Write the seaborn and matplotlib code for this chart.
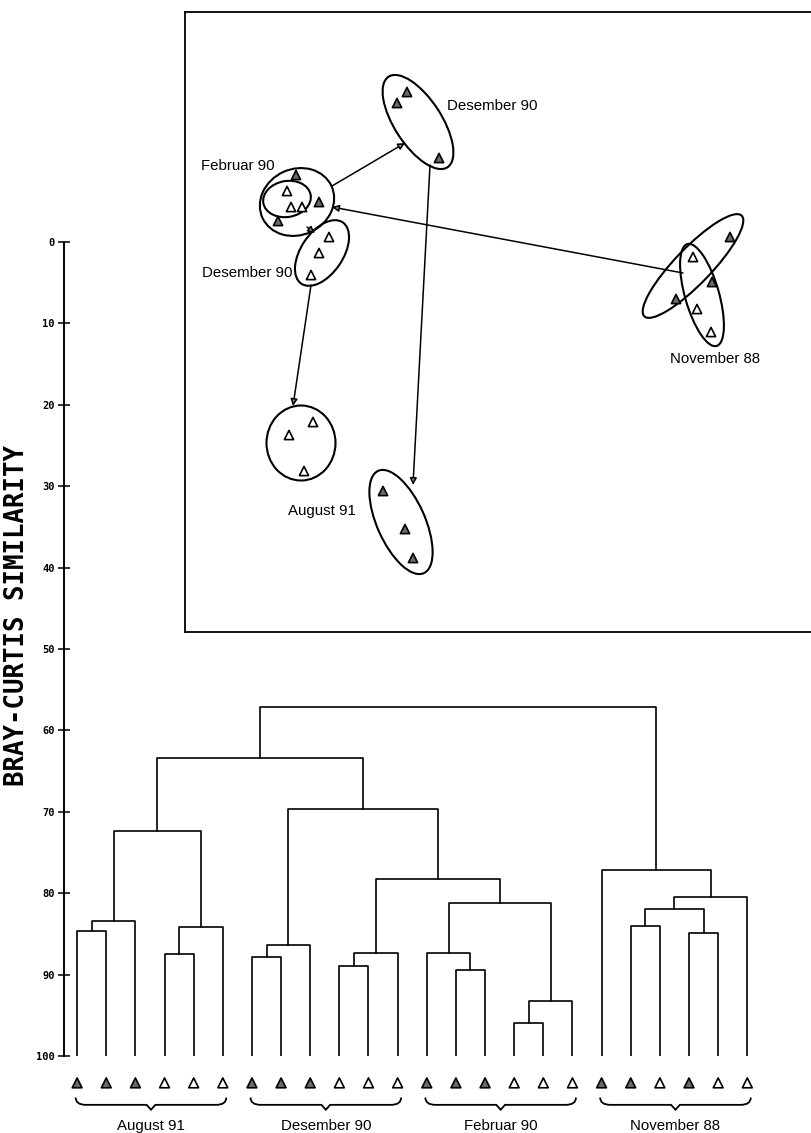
import numpy as np
import pandas as pd
import matplotlib
matplotlib.use('Agg')
import matplotlib.pyplot as plt
import seaborn as sns
from matplotlib.patches import Ellipse, PathPatch
from matplotlib.path import Path

# ---------------- data ----------------
group_names = ['August 91', 'Desember 90', 'Februar 90', 'November 88']
leaf_group = [0] * 6 + [1] * 6 + [2] * 6 + [3] * 6
leaf_filled = [1, 1, 1, 0, 0, 0,
               1, 1, 1, 0, 0, 0,
               1, 1, 1, 0, 0, 0,
               1, 1, 0, 1, 0, 0]
# agglomeration steps: cluster ids 0..23 are leaves, step k creates id 24+k
merge_a = [0, 24, 3, 26, 25, 6, 29, 9, 31, 13, 12, 15, 35, 34, 32, 30, 28,
           19, 21, 41, 43, 18, 40]
merge_b = [1, 2, 4, 5, 27, 7, 8, 10, 11, 14, 33, 16, 17, 36, 37, 38, 39,
           20, 22, 42, 23, 44, 45]
merge_h = [84.7, 83.4, 87.5, 84.1, 72.4, 87.8, 86.4, 88.9, 87.3, 89.4, 87.4,
           95.9, 93.2, 81.2, 78.3, 69.7, 63.4, 84.0, 84.9, 82.0, 80.5, 77.2,
           57.1]
y_ticks = [0, 10, 20, 30, 40, 50, 60, 70, 80, 90, 100]
y_label = 'BRAY-CURTIS SIMILARITY'

# MDS ordination (inset)
mds_x = [22.2, 21.2, 25.4,
         11.1, 13.4, 9.3,
         10.2, 10.6, 11.7,
         14.4, 13.4, 12.6,
         12.8, 10.4, 11.9,
         19.8, 22.0, 22.8,
         54.5, 52.7, 49.1,
         50.8, 51.2, 52.6]
mds_y = [8.0, 9.1, 14.6,
         16.3, 19.0, 20.9,
         17.9, 19.5, 19.5,
         22.5, 24.1, 26.3,
         41.0, 42.3, 45.9,
         47.9, 51.7, 54.6,
         22.5, 27.0, 28.7,
         24.5, 29.7, 32.0]
mds_filled = [1, 1, 1, 1, 1, 1, 0, 0, 0, 0, 0, 0,
              0, 0, 0, 1, 1, 1, 1, 1, 1, 0, 0, 0]
# arrows (from x, from y, to x, to y)
arrow_x0 = [14.7, 49.8, 12.2, 12.6, 24.5]
arrow_y0 = [17.4, 26.1, 21.5, 27.3, 15.3]
arrow_x1 = [22.0, 14.7, 13.0, 10.8, 22.8]
arrow_y1 = [13.1, 19.5, 22.1, 39.4, 47.3]
mds_labels = ['Desember 90', 'Februar 90', 'Desember 90', 'August 91', 'November 88']
mds_label_x = [26.2, 1.6, 10.7, 13.7, 53.0]
mds_label_y = [9.4, 15.4, 26.1, 49.9, 34.7]
mds_label_ha = ['left', 'left', 'right', 'center', 'center']
# cluster envelopes: centre x, centre y, length, width, angle
env_x = [23.3, 11.2, 10.2, 13.7, 11.6, 21.6, 50.8, 51.7]
env_y = [11.0, 19.0, 18.7, 24.1, 43.1, 51.0, 25.4, 28.3]
env_w = [10.8, 7.6, 4.8, 7.4, 6.9, 11.2, 14.0, 10.6]
env_h = [4.7, 6.6, 3.6, 4.2, 7.5, 4.8, 3.6, 3.4]
env_a = [57, -25, -10, 124, 0, 66, -46, 74]

# ---------------- figure ----------------
W, H = 811, 1133
sns.set_style('white')
plt.rcParams['text.color'] = 'black'
fig = plt.figure(figsize=(W / 100, H / 100), dpi=100)
fig.patch.set_facecolor('white')
lab_font = 'Liberation Sans'
mono = 'DejaVu Sans Mono'

# main dendrogram axes (pixel layout)
ax_l, ax_r, ax_t, ax_b = 64, 791, 242, 1056
ax = fig.add_axes([ax_l / W, 1 - ax_b / H, (ax_r - ax_l) / W, (ax_b - ax_t) / H])
ax.set_facecolor('none')

pos = {i: float(i) for i in range(24)}
hgt = {i: 100.0 for i in range(24)}
rows = []
for k, (a, b, h) in enumerate(zip(merge_a, merge_b, merge_h)):
    cid = 24 + k
    pos[cid] = (pos[a] + pos[b]) / 2
    hgt[cid] = h
    for j, (xx, yy) in enumerate([(pos[a], hgt[a]), (pos[a], h), (pos[b], h), (pos[b], hgt[b])]):
        rows.append(dict(seg=k, order=j, x=xx, y=yy))
seg_df = pd.DataFrame(rows)
sns.lineplot(data=seg_df, x='x', y='y', units='seg', estimator=None, sort=False,
             color='black', lw=1.2, ax=ax)

leaf_df = pd.DataFrame(dict(x=np.arange(24, dtype=float), y=103.3,
                            kind=['filled' if f else 'open' for f in leaf_filled]))
sns.scatterplot(data=leaf_df, x='x', y='y', hue='kind', marker='^', s=50,
                palette={'filled': '#6a6a6a', 'open': 'white'},
                edgecolor='black', linewidth=1.2, legend=False, ax=ax)
for c in ax.collections:
    c.set_clip_on(False)

ax.set_xlim(-0.45, 24.5)
ax.set_ylim(100, 0)
for s in ['top', 'right', 'bottom']:
    ax.spines[s].set_visible(False)
ax.spines['left'].set_linewidth(1.4)
ax.spines['left'].set_color('black')
ax.set_xticks([])
ax.set_yticks(y_ticks)
ax.set_yticklabels([str(t) for t in y_ticks], family=mono, fontweight='bold',
                   fontsize=7.5, color='black')
ax.tick_params(axis='y', direction='inout', length=9, width=1.1, pad=2, colors='black', left=True)
ax.set_xlabel('')
ax.set_ylabel('')

# braces + group labels
for g, name in enumerate(group_names):
    idx = [i for i, gg in enumerate(leaf_group) if gg == g]
    x0, x1 = min(idx) - 0.05, max(idx) + 0.12
    xm = (x0 + x1) / 2
    yt, yf, yp = 105.1, 106.0, 106.6
    verts = [(x0, yt), (x0, yf), (x0 + 0.35, yf),
             (xm - 0.15, yf), (xm, yp), (xm + 0.15, yf),
             (x1 - 0.35, yf), (x1, yf), (x1, yt)]
    codes = [Path.MOVETO, Path.CURVE3, Path.CURVE3,
             Path.LINETO, Path.LINETO, Path.LINETO,
             Path.LINETO, Path.CURVE3, Path.CURVE3]
    ax.add_patch(PathPatch(Path(verts, codes), fill=False, lw=1.3, ec='black', clip_on=False))
    ax.text(xm, 108.6, name, ha='center', va='center', fontsize=10.8, family=lab_font,
            color='black', clip_on=False)

fig.text(17 / W, 1 - 616 / H, y_label, rotation=90, ha='center', va='center',
         family=mono, fontweight='bold', fontsize=18.5, color='black')

# ---------------- inset MDS ----------------
in_l, in_t, in_b = 185, 12, 632
in_w = 650
axi = fig.add_axes([in_l / W, 1 - in_b / H, in_w / W, (in_b - in_t) / H])
axi.set_facecolor('white')
axi.set_xlim(0, in_w / 10)
axi.set_ylim((in_b - in_t) / 10, 0)
axi.set_xticks([])
axi.set_yticks([])
for s in ['top', 'left', 'bottom']:
    axi.spines[s].set_linewidth(1.3)
    axi.spines[s].set_color('black')
axi.spines['right'].set_visible(False)

for cx, cy, w, h, a in zip(env_x, env_y, env_w, env_h, env_a):
    axi.add_patch(Ellipse((cx, cy), w, h, angle=a, fill=False, lw=1.5, ec='black'))

for x0, y0, x1, y1 in zip(arrow_x0, arrow_y0, arrow_x1, arrow_y1):
    axi.annotate('', xy=(x1, y1), xytext=(x0, y0),
                 arrowprops=dict(arrowstyle='-|>', lw=1.1, color='black',
                                 fc='#888888', mutation_scale=10,
                                 shrinkA=0, shrinkB=0))

mds_df = pd.DataFrame(dict(x=mds_x, y=mds_y,
                           kind=['filled' if f else 'open' for f in mds_filled]))
sns.scatterplot(data=mds_df, x='x', y='y', hue='kind', marker='^', s=44,
                palette={'filled': '#6a6a6a', 'open': 'white'},
                edgecolor='black', linewidth=1.2, legend=False, ax=axi, zorder=5)
axi.set_xlabel('')
axi.set_ylabel('')

for t, x, y, ha in zip(mds_labels, mds_label_x, mds_label_y, mds_label_ha):
    axi.text(x, y, t, ha=ha, va='center', fontsize=10.8, family=lab_font, color='black')

fig.savefig('out.png', dpi=100)
